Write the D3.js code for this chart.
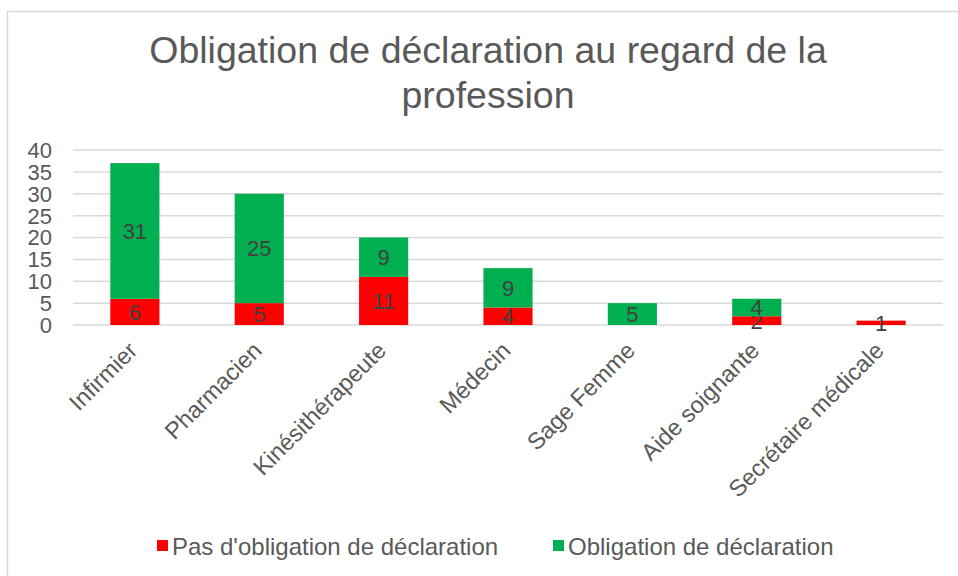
<!DOCTYPE html>
<html>
<head>
  <meta charset="utf-8">
  <title>Obligation de déclaration</title>
  <script src="https://d3js.org/d3.v7.min.js"></script>
  <style>
    body { margin: 0; background: #fff; }
    text { font-family: "Liberation Sans", Arial, sans-serif; fill: #595959; }
  </style>
</head>
<body>
<script>
  // data
  var professions = ["Infirmier", "Pharmacien", "Kinésithérapeute", "Médecin",
                     "Sage Femme", "Aide soignante", "Secrétaire médicale"];
  var pasObligation = [6, 5, 11, 4, 0, 2, 1];
  var obligation = [31, 25, 9, 9, 5, 4, 0];
  var seriesNames = ["Pas d'obligation de déclaration", "Obligation de déclaration"];
  var seriesColors = ["#ff0000", "#00b050"];
  var yTicks = [0, 5, 10, 15, 20, 25, 30, 35, 40];

  function draw() {
    "use strict";
    var width = 958, height = 576;
    var plotLeft = 73, plotRight = 943, plotTop = 150, plotBottom = 325;

    var svg = d3.select("body").append("svg")
        .attr("width", width)
        .attr("height", height);

    // chart frame
    svg.append("rect")
        .attr("x", 7.5).attr("y", 11.5)
        .attr("width", 980).attr("height", 600)
        .attr("fill", "none")
        .attr("stroke", "#d9d9d9")
        .attr("stroke-width", 1.5);

    // title
    var title = svg.append("text")
        .attr("text-anchor", "middle")
        .style("font-size", "37.5px");
    title.append("tspan").attr("x", 488).attr("y", 63).text("Obligation de déclaration au regard de la");
    title.append("tspan").attr("x", 488).attr("y", 108).text("profession");

    var x = d3.scaleBand().domain(professions).range([plotLeft, plotRight])
        .paddingInner(0.605).paddingOuter(0.3);
    var y = d3.scaleLinear().domain([0, 40]).range([plotBottom, plotTop]);

    // gridlines
    svg.append("g").selectAll("line")
      .data(yTicks)
      .enter().append("line")
        .attr("x1", plotLeft).attr("x2", plotRight)
        .attr("y1", function (d) { return y(d); })
        .attr("y2", function (d) { return y(d); })
        .attr("stroke", "#d9d9d9")
        .attr("stroke-width", 1.5);

    // y tick labels
    svg.append("g").selectAll("text")
      .data(yTicks)
      .enter().append("text")
        .attr("x", 52)
        .attr("y", function (d) { return y(d); })
        .attr("dy", "0.36em")
        .attr("text-anchor", "end")
        .style("font-size", "22px")
        .text(function (d) { return d; });

    // stacked bars
    var rows = professions.map(function (p, i) {
      return { prof: p, pas: pasObligation[i], obl: obligation[i] };
    });
    var stack = d3.stack().keys(["pas", "obl"])(rows);

    var layers = svg.append("g").selectAll("g")
      .data(stack)
      .enter().append("g")
        .attr("fill", function (d, i) { return seriesColors[i]; });

    layers.selectAll("rect")
      .data(function (d) { return d; })
      .enter().append("rect")
        .attr("x", function (d) { return x(d.data.prof); })
        .attr("width", x.bandwidth())
        .attr("y", function (d) { return y(d[1]); })
        .attr("height", function (d) { return y(d[0]) - y(d[1]); });

    // value labels
    layers.selectAll("text")
      .data(function (d) { return d.filter(function (s) { return s[1] - s[0] > 0; }); })
      .enter().append("text")
        .attr("x", function (d) { return x(d.data.prof) + x.bandwidth() / 2; })
        .attr("y", function (d) { return (y(d[0]) + y(d[1])) / 2; })
        .attr("dy", "0.36em")
        .attr("text-anchor", "middle")
        .style("font-size", "22px")
        .style("fill", "#404040")
        .text(function (d) { return d[1] - d[0]; });

    // category labels
    svg.append("g").selectAll("text")
      .data(professions)
      .enter().append("text")
        .attr("transform", function (d) {
          return "translate(" + (x(d) + x.bandwidth() / 2 + 4) + "," + 352 + ") rotate(-45)";
        })
        .attr("text-anchor", "end")
        .style("font-size", "23.5px")
        .text(function (d) { return d; });

    // legend
    var legendX = [157, 553];
    var legend = svg.append("g").selectAll("g")
      .data(seriesNames)
      .enter().append("g")
        .attr("transform", function (d, i) { return "translate(" + legendX[i] + ",546)"; });
    legend.append("rect")
        .attr("x", 0).attr("y", -6)
        .attr("width", 11).attr("height", 11)
        .attr("fill", function (d, i) { return seriesColors[i]; });
    legend.append("text")
        .attr("x", 15)
        .attr("dy", "0.36em")
        .style("font-size", "24px")
        .text(function (d) { return d; });
  }

  draw();
</script>
</body>
</html>
